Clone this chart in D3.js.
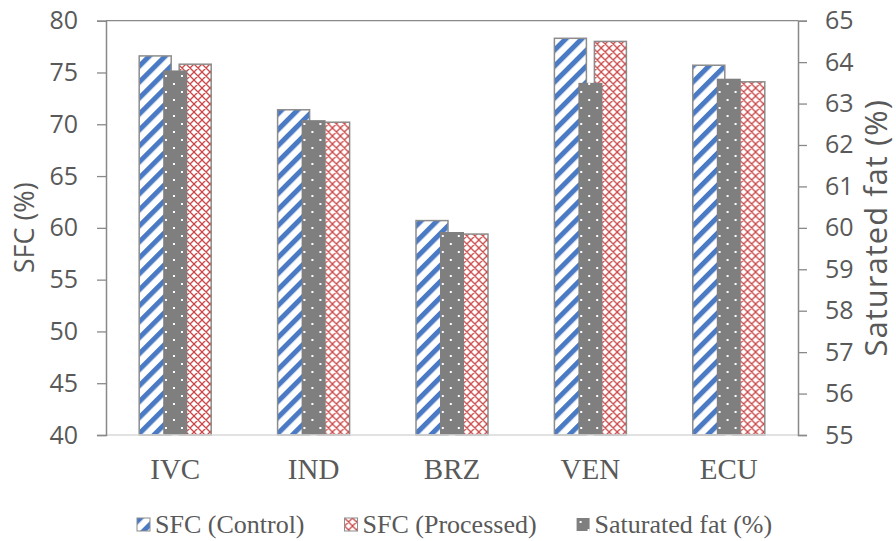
<!DOCTYPE html>
<html>
<head>
<meta charset="utf-8">
<script src="https://cdn.jsdelivr.net/npm/d3@7"></script>
<style>
  html, body { margin: 0; padding: 0; background: #fff; overflow: hidden; }
  svg { display: block; }
</style>
</head>
<body>
<svg id="chart" width="896" height="541"></svg>
<script>
// Sample origins
const categories = ["IVC", "IND", "BRZ", "VEN", "ECU"];
// Solid fat content (%), left axis
const sfcControl = [76.6, 71.4, 60.7, 78.3, 75.7];
const sfcProcessed = [75.8, 70.2, 59.4, 78.0, 74.1];
// Saturated fat (%), right axis
const saturatedFat = [63.8, 62.6, 59.9, 63.5, 63.6];
// Axis ticks
const leftTicks = [40, 45, 50, 55, 60, 65, 70, 75, 80];
const rightTicks = [55, 56, 57, 58, 59, 60, 61, 62, 63, 64, 65];
const legendLabels = ["SFC (Control)", "SFC (Processed)", "Saturated fat (%)"];

const svg = d3.select("#chart");
const m = { left: 106, right: 798, top: 20.7, bottom: 435 };

const axisColor = "#898989";
const textColor = "#595959";
const sansFont = "'Open Sans', 'DejaVu Sans', sans-serif";
const serifFont = "'Liberation Serif', 'Times New Roman', serif";

// Fill patterns
const defs = svg.append("defs");

const pStripe = defs.append("pattern")
  .attr("id", "pat-control")
  .attr("patternUnits", "userSpaceOnUse")
  .attr("width", 11.3).attr("height", 11.3)
  .attr("patternTransform", "rotate(45)");
pStripe.append("rect").attr("width", 11.3).attr("height", 11.3).attr("fill", "#fff");
pStripe.append("rect").attr("x", 0).attr("width", 5).attr("height", 11.3).attr("fill", "#4a7ac4");

const pLattice = defs.append("pattern")
  .attr("id", "pat-processed")
  .attr("patternUnits", "userSpaceOnUse")
  .attr("width", 8).attr("height", 8);
pLattice.append("rect").attr("width", 8).attr("height", 8).attr("fill", "#fff");
pLattice.append("path")
  .attr("d", "M0,0L8,8M0,8L8,0M-1,1L1,-1M7,9L9,7M-1,7L1,9M7,-1L9,1")
  .attr("stroke", "#cc4848").attr("stroke-width", 1.3).attr("fill", "none");

const pDots = defs.append("pattern")
  .attr("id", "pat-sat")
  .attr("patternUnits", "userSpaceOnUse")
  .attr("width", 16).attr("height", 16);
pDots.append("rect").attr("width", 16).attr("height", 16).attr("fill", "#7f7f7f");
pDots.append("rect").attr("x", 3).attr("y", 3).attr("width", 2).attr("height", 2).attr("fill", "#fff");
pDots.append("rect").attr("x", 11).attr("y", 11).attr("width", 2).attr("height", 2).attr("fill", "#fff");

// Scales
const x0 = d3.scaleBand().domain(categories).range([m.left, m.right]).paddingInner(0).paddingOuter(0);
const bw = x0.bandwidth();
const x1 = d3.scaleBand().domain(["control", "processed"])
  .range([bw / 2 - 36, bw / 2 + 36]).paddingInner(0.2).paddingOuter(0);
const yL = d3.scaleLinear().domain([40, 80]).range([m.bottom, m.top]);
const yR = d3.scaleLinear().domain([55, 65]).range([m.bottom, m.top]);
const satWidth = 24;

// Top border of plot
svg.append("line")
  .attr("x1", m.left).attr("x2", m.right)
  .attr("y1", m.top).attr("y2", m.top)
  .attr("stroke", axisColor).attr("stroke-width", 1.3);

// Bars: primary series
const groups = svg.append("g").selectAll("g").data(categories).join("g")
  .attr("transform", d => `translate(${x0(d)},0)`);

groups.append("rect")
  .attr("x", (d, i) => x1("control"))
  .attr("y", (d, i) => yL(sfcControl[i]))
  .attr("width", x1.bandwidth())
  .attr("height", (d, i) => yL(40) - yL(sfcControl[i]))
  .attr("fill", "url(#pat-control)")
  .attr("stroke", "#8c8c8c").attr("stroke-width", 1.5);

groups.append("rect")
  .attr("x", (d, i) => x1("processed"))
  .attr("y", (d, i) => yL(sfcProcessed[i]))
  .attr("width", x1.bandwidth())
  .attr("height", (d, i) => yL(40) - yL(sfcProcessed[i]))
  .attr("fill", "url(#pat-processed)")
  .attr("stroke", "#8c8c8c").attr("stroke-width", 1.5);

// Bars: secondary series on top
groups.append("rect")
  .attr("x", bw / 2 - satWidth / 2)
  .attr("y", (d, i) => yR(saturatedFat[i]))
  .attr("width", satWidth)
  .attr("height", (d, i) => yR(55) - yR(saturatedFat[i]))
  .attr("fill", "url(#pat-sat)");

// Category axis
svg.append("line")
  .attr("x1", m.left).attr("x2", m.right)
  .attr("y1", m.bottom).attr("y2", m.bottom)
  .attr("stroke", "#d9d9d9").attr("stroke-width", 1.5);

svg.append("g").selectAll("text").data(categories).join("text")
  .attr("x", d => x0(d) + bw / 2)
  .attr("y", 479)
  .attr("text-anchor", "middle")
  .attr("font-family", serifFont)
  .attr("font-size", 29)
  .attr("fill", textColor)
  .text(d => d);

// Left axis
const leftAxis = svg.append("g")
  .attr("transform", `translate(${m.left},0)`)
  .call(d3.axisLeft(yL).tickValues(leftTicks).tickSize(9).tickPadding(19));
leftAxis.select(".domain").attr("stroke", axisColor).attr("stroke-width", 1.5);
leftAxis.selectAll(".tick line").attr("stroke", axisColor).attr("stroke-width", 1.3);
leftAxis.selectAll(".tick text")
  .attr("font-family", sansFont).attr("font-size", 25).attr("fill", textColor);

// Right axis
const rightAxis = svg.append("g")
  .attr("transform", `translate(${m.right},0)`)
  .call(d3.axisRight(yR).tickValues(rightTicks).tickSize(9).tickPadding(18));
rightAxis.select(".domain").attr("stroke", axisColor).attr("stroke-width", 1.5);
rightAxis.selectAll(".tick line").attr("stroke", axisColor).attr("stroke-width", 1.3);
rightAxis.selectAll(".tick text")
  .attr("font-family", sansFont).attr("font-size", 25).attr("fill", textColor);

// Axis titles
svg.append("text")
  .attr("transform", `translate(34,${(m.top + m.bottom) / 2}) rotate(-90)`)
  .attr("text-anchor", "middle")
  .attr("font-family", sansFont).attr("font-size", 27).attr("fill", textColor)
  .text("SFC (%)");

svg.append("text")
  .attr("transform", `translate(887,${(m.top + m.bottom) / 2}) rotate(-90)`)
  .attr("text-anchor", "middle")
  .attr("font-family", sansFont).attr("font-size", 31)
  .attr("letter-spacing", 1).attr("fill", textColor)
  .text("Saturated fat (%)");

// Legend: marker, label, then next item
const legendFills = ["url(#pat-control)", "url(#pat-processed)", "url(#pat-sat)"];
const legend = svg.append("g");
let lx = 137;
legendLabels.forEach((label, i) => {
  const item = legend.append("g").attr("transform", `translate(${lx},518)`);
  item.append("rect")
    .attr("width", 13).attr("height", 13)
    .attr("fill", legendFills[i])
    .attr("stroke", i === 2 ? "none" : "#8c8c8c")
    .attr("stroke-width", 1);
  const t = item.append("text")
    .attr("x", 18).attr("y", 15)
    .attr("font-family", serifFont).attr("font-size", 26).attr("fill", textColor)
    .text(label);
  lx += 18 + t.node().getComputedTextLength() + 40;
});
</script>
</body>
</html>
